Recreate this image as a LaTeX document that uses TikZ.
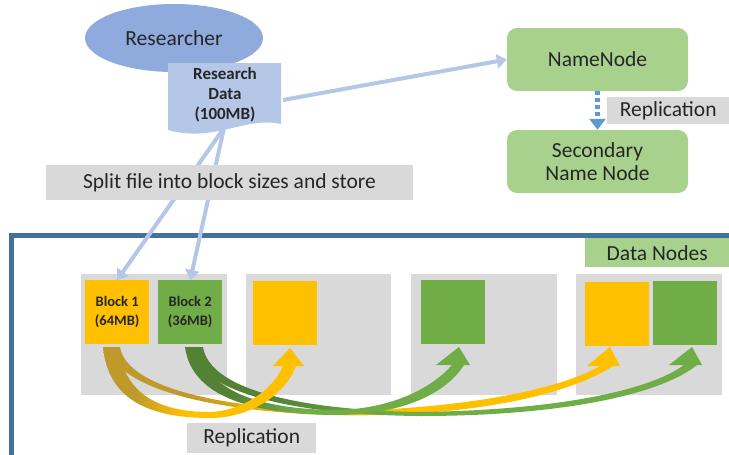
\documentclass[tikz,border=0pt]{standalone}
\usepackage{fontspec}
\setmainfont{Carlito}
\usetikzlibrary{arrows.meta,shapes.geometric}

\definecolor{ovalblue}{HTML}{8FAADC}
\definecolor{paleblue}{HTML}{B4C7E7}
\definecolor{dotblue}{HTML}{5B9BD5}
\definecolor{frameblue}{HTML}{41719C}
\definecolor{softgreen}{HTML}{A9D18E}
\definecolor{boxgray}{HTML}{D9D9D9}
\definecolor{amber}{HTML}{FFC000}
\definecolor{darkamber}{HTML}{BF9A2A}
\definecolor{leaf}{HTML}{70AD47}
\definecolor{darkleaf}{HTML}{548235}
\definecolor{ink}{HTML}{262626}

% ribbons: dark at the start, bright towards the arrow head
\pgfdeclarehorizontalshading{amberribbon}{100bp}{color(0bp)=(darkamber); color(33bp)=(darkamber); color(45bp)=(amber); color(100bp)=(amber)}
\pgfdeclarehorizontalshading{leafribbon}{100bp}{color(0bp)=(darkleaf); color(33bp)=(darkleaf); color(45bp)=(leaf); color(100bp)=(leaf)}

\tikzset{
  txt/.style={text=ink, font=\fontsize{21.5}{24}\selectfont},
  tag/.style={txt, fill=boxgray, inner sep=0pt},
  gnode/.style={txt, fill=softgreen, rounded corners=10pt, minimum width=181pt, minimum height=63pt, align=center, inner sep=0pt},
  server/.style={fill=boxgray, inner sep=0pt, minimum width=146pt, minimum height=121pt, anchor=north west},
  blockbox/.style={inner sep=0pt, minimum width=64pt, minimum height=64pt, anchor=north west, align=center, text=ink, font=\bfseries\fontsize{14.5}{19}\selectfont},
  feed/.style={draw=paleblue, line width=4pt, -{Triangle[width=14pt,length=10pt]}},
}

\begin{document}
\begin{tikzpicture}[x=1pt,y=-1pt]
\useasboundingbox (0,0) rectangle (729,455);
\clip (0,0) rectangle (729,455);

% client side
\node[ellipse, fill=ovalblue, minimum width=178pt, minimum height=68pt, txt] (researcher) at (174,38) {Researcher};
\fill[paleblue] (168,63) -- (281,63) -- (281,124)
  .. controls (245,116) and (215,143) .. (168,130) -- cycle;
\node[align=center, text=ink, font=\bfseries\fontsize{17}{20}\selectfont] (data) at (225,95) {Research\\Data\\(100MB)};
\coordinate (dataside) at (283,100);
\coordinate (databottom) at (224,128);

% master side
\node[gnode] (nn) at (597.5,59.5) {NameNode};
\node[gnode, font=\fontsize{21.5}{23}\selectfont] (snn) at (597.5,161.5) {Secondary\\Name Node};
\node[tag, minimum width=122pt, minimum height=27pt, anchor=north west] (repl1) at (607,97) {Replication};
\draw[dotblue, line width=5pt, dash pattern=on 4pt off 3pt, -{Triangle[width=16pt,length=11pt]}] (nn.south) -- (snn.north);

% cluster frame
\draw[frameblue, line width=5pt] (11,470) -- (11,235.5) -- (740,235.5);
\node[tag, fill=softgreen, minimum width=144pt, minimum height=29pt, anchor=north west] (dn) at (585,238) {Data Nodes};

% data node servers
\node[server] (s1) at (81,274) {};
\node[server, minimum width=145pt] (s2) at (246,274) {};
\node[server] (s3) at (411,274) {};
\node[server] (s4) at (576,274) {};

% blocks
\node[blockbox, fill=amber] (b1) at (85,280) {Block 1\\(64MB)};
\node[blockbox, fill=leaf] (b2) at (158,280) {Block 2\\(36MB)};
\node[blockbox, fill=amber] (b3) at (253,281) {};
\node[blockbox, fill=leaf] (b4) at (421,280) {};
\node[blockbox, fill=amber] (b5) at (585,282) {};
\node[blockbox, fill=leaf] (b6) at (653,281) {};

% flows from the client
\draw[feed] (dataside) -- (nn.west);
\draw[feed] (databottom) -- (b1.north);
\draw[feed] (databottom) -- (b2.north);

% the split label sits over the two feeds
\node[tag, minimum width=367pt, minimum height=35pt] (split) at (229.5,182.5) {Split file into block sizes and store};

% replication ribbons
\shade[shading=amberribbon]
  (108,347) .. controls (115,385) and (200,411) .. (330,415)
  .. controls (450,418) and (560,400) .. (613,366)
  -- (620,366) -- (610,347) -- (587,366) -- (600,366)
  .. controls (555,392) and (450,410) .. (330,411)
  .. controls (210,407) and (126,385) .. (120,347) -- cycle;
\shade[shading=leafribbon]
  (189,347) .. controls (200,395) and (300,415) .. (420,416)
  .. controls (560,416) and (660,395) .. (697,365)
  -- (702,365) -- (692,347) -- (669,365) -- (684,365)
  .. controls (650,390) and (560,410) .. (420,412)
  .. controls (300,410) and (210,390) .. (203,347) -- cycle;
\shade[shading=leafribbon]
  (185,347) .. controls (192,400) and (260,415) .. (340,415)
  .. controls (400,414) and (445,395) .. (464,365)
  -- (470,365) -- (459,347) -- (436,365) -- (452,365)
  .. controls (430,390) and (390,408) .. (340,410)
  .. controls (270,410) and (205,395) .. (200,347) -- cycle;
\shade[shading=amberribbon]
  (103,347) .. controls (108,400) and (150,418) .. (210,418)
  .. controls (250,418) and (285,395) .. (296,366)
  -- (304,366) -- (290,348) -- (273,366) -- (283,366)
  .. controls (272,392) and (240,411) .. (210,412)
  .. controls (160,412) and (125,395) .. (118,347) -- cycle;

\node[tag, minimum width=129pt, minimum height=30pt, anchor=north west] (repl2) at (187,423) {Replication};
\end{tikzpicture}
\end{document}
